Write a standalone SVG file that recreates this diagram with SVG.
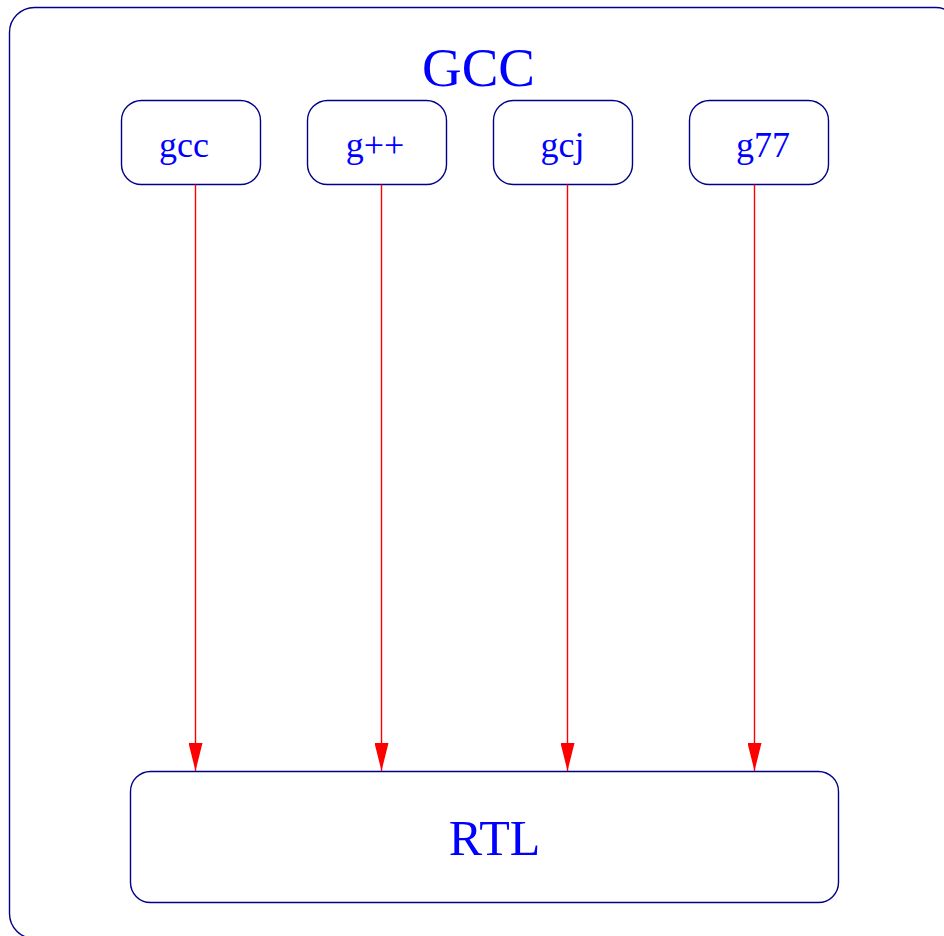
<svg xmlns="http://www.w3.org/2000/svg" width="944" height="936" viewBox="0 0 944 936">
  <style>
    .box { fill: #ffffff; stroke: #000088; stroke-width: 1.4; }
    .lbl { font-family: "Liberation Serif", "Times New Roman", serif; fill: #0000ff; text-anchor: middle; }
    .edge { stroke: #ff0000; stroke-width: 1.4; fill: none; marker-end: url(#head); }
  </style>
  <defs>
    <marker id="head" markerUnits="userSpaceOnUse" markerWidth="28" markerHeight="14" refX="28" refY="7" orient="auto" viewBox="0 0 28 14">
      <path d="M0,0 L28,7 L0,14 Z" fill="#ff0000"/>
    </marker>
  </defs>

  <!-- GCC cluster -->
  <g id="cluster-gcc">
    <rect class="box" x="9.5" y="7.5" width="951" height="931" rx="25" ry="25"/>
    <text class="lbl" x="478.5" y="86" font-size="55">GCC</text>
  </g>

  <!-- front-end nodes -->
  <g id="node-gcc">
    <rect class="box" x="121.5" y="100.5" width="139" height="84" rx="20" ry="20"/>
    <text class="lbl" x="184" y="157" font-size="36">gcc</text>
  </g>
  <g id="node-gpp">
    <rect class="box" x="307.5" y="100.5" width="139" height="84" rx="20" ry="20"/>
    <text class="lbl" x="375" y="157" font-size="36">g++</text>
  </g>
  <g id="node-gcj">
    <rect class="box" x="493.5" y="100.5" width="139" height="84" rx="20" ry="20"/>
    <text class="lbl" x="562.5" y="157" font-size="36">gcj</text>
  </g>
  <g id="node-g77">
    <rect class="box" x="689.5" y="100.5" width="139" height="84" rx="20" ry="20"/>
    <text class="lbl" x="763" y="157" font-size="36">g77</text>
  </g>

  <!-- back end -->
  <g id="node-rtl">
    <rect class="box" x="130.5" y="771.5" width="708" height="131" rx="20" ry="20"/>
    <text class="lbl" x="494.5" y="855" font-size="50">RTL</text>
  </g>

  <!-- connectors -->
  <g id="edges">
    <line class="edge" x1="195.5" y1="184.5" x2="195.5" y2="771"/>
    <line class="edge" x1="381.5" y1="184.5" x2="381.5" y2="771"/>
    <line class="edge" x1="567.5" y1="184.5" x2="567.5" y2="771"/>
    <line class="edge" x1="754.5" y1="184.5" x2="754.5" y2="771"/>
  </g>
</svg>
